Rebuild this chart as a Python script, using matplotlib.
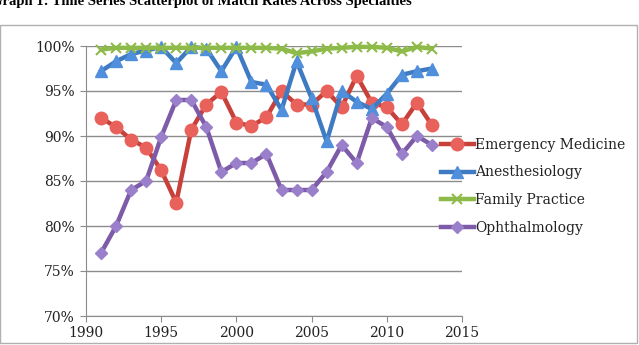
import numpy as np
import matplotlib.pyplot as plt
from matplotlib.patches import Rectangle
from matplotlib.ticker import FuncFormatter

years = list(range(1991, 2014))

emergency = [92.0, 91.0, 89.6, 88.7, 86.2, 82.6, 90.7, 93.5, 94.9, 91.5, 91.1,
             92.1, 95.0, 93.5, 93.5, 95.0, 93.2, 96.7, 93.7, 93.2, 91.3, 93.7, 91.2]
anesthesiology = [97.2, 98.3, 99.1, 99.5, 99.9, 98.1, 99.9, 99.7, 97.2, 99.9, 96.0,
                  95.7, 92.9, 98.3, 94.2, 89.4, 95.0, 93.8, 93.0, 94.7, 96.8, 97.2, 97.5]
family = [99.6, 99.8, 99.8, 99.8, 99.8, 99.8, 99.8, 99.8, 99.8, 99.8, 99.8,
          99.8, 99.7, 99.2, 99.4, 99.7, 99.8, 99.9, 99.9, 99.8, 99.4, 99.9, 99.7]
ophthalmology = [77.0, 80.0, 84.0, 85.0, 89.9, 94.0, 94.0, 91.0, 86.0, 87.0, 87.0,
                 88.0, 84.0, 84.0, 84.0, 86.0, 89.0, 87.0, 92.0, 91.0, 88.0, 90.0, 89.0]

names = ['Emergency Medicine', 'Anesthesiology', 'Family Practice', 'Ophthalmology']
colors = ['#c8403a', '#3f7bc2', '#8dba48', '#7d5ba8']
faces = ['#e8615a', '#4f8fdb', '#a8d060', '#9a7fcb']
markers = ['o', '^', 'x', 'D']
sizes = [9, 8, 7, 6]

plt.rcParams['font.family'] = ['DejaVu Serif']

fig = plt.figure(figsize=(6.39, 3.45), dpi=100)
ax = fig.add_axes([86 / 639, 1 - 316 / 345, (462 - 86) / 639, (316 - 46) / 345])

# chart border and the caption, cut off at the top like in the source
fig.patches.append(Rectangle((0.0, 2 / 345), 637 / 639, 318 / 345, transform=fig.transFigure,
                             fill=False, edgecolor='#b0b0b0', linewidth=1.0))
fig.text(-0.014, 1 - 4.5 / 345, 'Graph 1: Time Series Scatterplot of Match Rates Across Specialties',
         fontsize=10.5, fontweight='bold', family='Liberation Serif', va='baseline', ha='left')

for vals, name, c, fc, m, s in zip([emergency, anesthesiology, family, ophthalmology],
                                   names, colors, faces, markers, sizes):
    ax.plot(years, vals, color=c, linewidth=3.2, marker=m, markersize=s,
            markerfacecolor=fc, markeredgecolor=fc if m != 'x' else c,
            markeredgewidth=1.0 if m != 'x' else 1.5, label=name, clip_on=False, zorder=3)

ax.set_xlim(1990, 2015)
ax.set_ylim(70, 100)
ax.set_xticks(range(1990, 2016, 5))
ax.set_yticks(range(70, 101, 5))
ax.yaxis.set_major_formatter(FuncFormatter(lambda v, p: '%d%%' % v))
ax.grid(axis='y', color='#8c8c8c', linewidth=1.0)
ax.set_axisbelow(True)
for sp in ['top', 'right']:
    ax.spines[sp].set_visible(False)
for sp in ['left', 'bottom']:
    ax.spines[sp].set_color('#8c8c8c')
ax.tick_params(axis='x', direction='out', length=4, color='#8c8c8c', labelsize=10, pad=3,
               labelcolor='#222222')
ax.tick_params(axis='y', direction='out', length=4, color='#8c8c8c', labelsize=10, pad=4,
               labelcolor='#222222')

leg = fig.legend(loc='upper left', bbox_to_anchor=(435 / 639, 1 - 132 / 345), frameon=False,
                 fontsize=10, handlelength=2.4, handletextpad=0.1, labelspacing=1.0,
                 borderaxespad=0)
for t in leg.get_texts():
    t.set_color('#222222')

fig.savefig('out.png', dpi=100)
